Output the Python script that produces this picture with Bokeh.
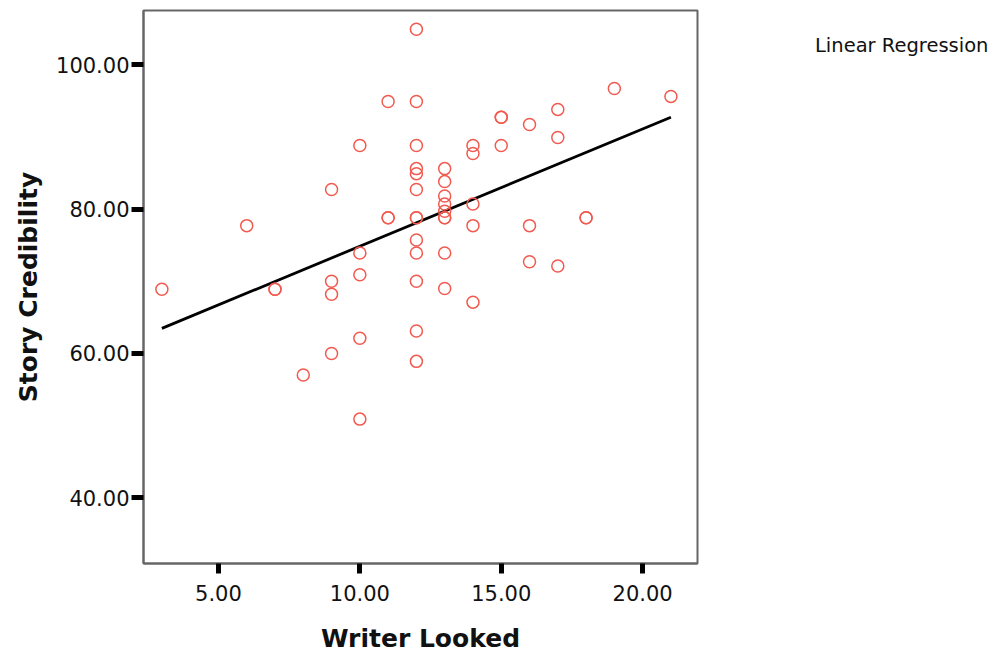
import numpy as np
from bokeh.plotting import figure
from bokeh.models import (Range1d, FixedTicker, PrintfTickFormatter, Legend, LegendItem,
                          ColumnDataSource)
from bokeh.embed import file_html
from bokeh.resources import INLINE

# Data
writer_looked = [3, 6, 7, 7, 8,
                 9, 9, 9, 9,
                 10, 10, 10, 10, 10,
                 11, 11, 11,
                 12, 12, 12, 12, 12, 12, 12, 12, 12, 12, 12, 12, 12,
                 13, 13, 13, 13, 13, 13, 13, 13, 13,
                 14, 14, 14, 14, 14,
                 15, 15, 15,
                 16, 16, 16,
                 17, 17, 17,
                 18, 18,
                 19, 21]
story_credibility = [68.9, 77.7, 68.9, 68.9, 57.0,
                     82.7, 70.0, 68.2, 60.0,
                     88.8, 73.9, 70.9, 62.1, 50.9,
                     94.9, 78.8, 78.8,
                     104.9, 94.9, 88.8, 85.6, 84.9, 82.7, 78.8, 78.8, 75.7, 73.9, 70.0, 63.1, 58.9,
                     85.6, 83.8, 81.8, 80.7, 79.7, 78.8, 78.8, 73.9, 69.0,
                     88.8, 87.7, 80.7, 77.7, 67.1,
                     92.7, 92.7, 88.8,
                     91.7, 77.7, 72.7,
                     93.8, 89.9, 72.1,
                     78.8, 78.8,
                     96.7, 95.6]
x_ticks = [5, 10, 15, 20]
y_ticks = [40, 60, 80, 100]
legend_text = "Linear Regression"

# Linear regression fit computed from the data
slope, intercept = np.polyfit(writer_looked, story_credibility, 1)
fit_x = [min(writer_looked), max(writer_looked)]
fit_y = [intercept + slope * v for v in fit_x]

p = figure(width=987, height=643, output_backend="svg", toolbar_location=None,
           x_range=Range1d(2.35, 21.94), y_range=Range1d(30.9, 107.5),
           frame_width=554, frame_height=553,
           min_border_left=143, min_border_top=10, min_border_right=290, min_border_bottom=80)
p.background_fill_color = "white"
p.border_fill_color = "white"
p.outline_line_color = "#666666"
p.outline_line_width = 2
p.grid.visible = False

p.line(fit_x, fit_y, line_color="black", line_width=2.8)
src = ColumnDataSource(dict(x=writer_looked, y=story_credibility))
p.scatter("x", "y", source=src, size=12, marker="circle", fill_color=None,
          line_color="#f25a4f", line_width=1.5)
# invisible renderer, used only so the legend text has an item
blank_r = p.line(x=[], y=[], line_alpha=0)

for ax, ticks in ((p.xaxis, x_ticks), (p.yaxis, y_ticks)):
    ax.ticker = FixedTicker(ticks=ticks)
    ax.formatter = PrintfTickFormatter(format="%.2f")
    ax.axis_line_color = "#666666"
    ax.axis_line_width = 2
    ax.minor_tick_line_color = None
    ax.major_tick_in = 0
    ax.major_tick_line_color = "black"
    ax.major_tick_line_width = 5
    ax.major_label_text_font = "DejaVu Sans"
    ax.major_label_text_font_size = "21px"
    ax.major_label_text_color = "#111111"
    ax.axis_label_text_font = "DejaVu Sans"
    ax.axis_label_text_font_size = "25px"
    ax.axis_label_text_font_style = "bold"
    ax.axis_label_text_color = "#111111"

p.xaxis.axis_label = "Writer Looked"
p.yaxis.axis_label = "Story Credibility"
p.xaxis.major_tick_out = 10
p.xaxis.major_label_standoff = 11
p.xaxis.axis_label_standoff = 20
p.yaxis.major_tick_out = 12
p.yaxis.major_label_standoff = 2
p.yaxis.axis_label_standoff = 10

legend = Legend(items=[LegendItem(label=legend_text, renderers=[blank_r])],
                location="top_left", glyph_width=118, glyph_height=70, label_height=20,
                label_standoff=0, padding=25, margin=0, spacing=0,
                border_line_color=None, background_fill_alpha=0,
                label_text_font="DejaVu Sans", label_text_font_size="19.5px",
                label_text_color="#111111")
p.add_layout(legend, "right")

open("out.html", "w").write(file_html(p, INLINE))
